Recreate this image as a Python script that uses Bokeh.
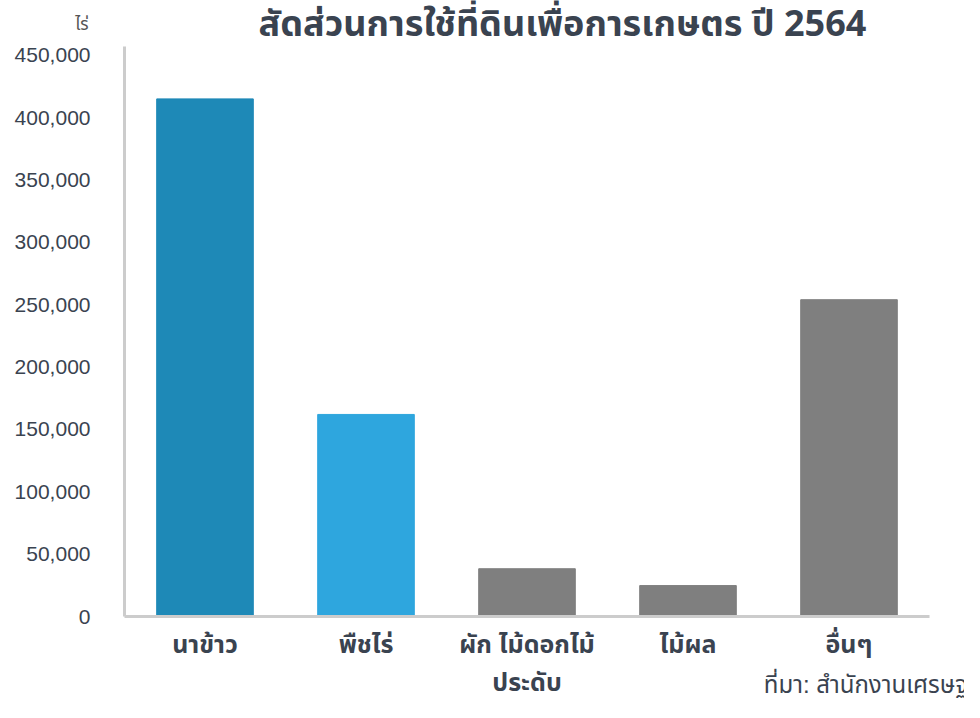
from bokeh.plotting import figure
from bokeh.models import Range1d, Label, Title, ColumnDataSource, NumeralTickFormatter, FixedTicker
from bokeh.layouts import column
from bokeh.embed import file_html
from bokeh.resources import INLINE

categories = ["นาข้าว", "พืชไร่", "ผัก ไม้ดอกไม้\nประดับ", "ไม้ผล", "อื่นๆ"]
values = [415000, 162000, 38300, 24800, 254000]
colors = ["#1e89b7", "#2ea6de", "#7f7f7f", "#7f7f7f", "#7f7f7f"]
y_ticks = [0, 50000, 100000, 150000, 200000, 250000, 300000, 350000, 400000, 450000]
title_text = "สัดส่วนการใช้ที่ดินเพื่อการเกษตร ปี 2564"
unit_text = "ไร่"
source_text = "ที่มา: สำนักงานเศรษฐกิจการเกษตร"

THAI = "Noto Sans Thai, Noto Sans, Liberation Sans, sans-serif"
THAI_TIGHT = "Liberation Sans, Noto Sans Thai, sans-serif"
TXT = "#3a4350"
W = 964
HEAD_H = 40

# header strip: title and unit label (frame is aligned with the main plot frame)
head = figure(width=W, height=HEAD_H, x_range=Range1d(124, 929), y_range=Range1d(0, HEAD_H),
              output_backend="svg", toolbar_location=None,
              min_border_left=124, min_border_right=35,
              min_border_top=0, min_border_bottom=0)
head.xaxis.visible = False
head.grid.visible = False
head.outline_line_color = None
head.yaxis.ticker = FixedTicker(ticks=[16])
head.yaxis.major_label_overrides = {16: unit_text}
head.yaxis.axis_line_color = None
head.yaxis.major_tick_line_color = None
head.yaxis.minor_tick_line_color = None
head.yaxis.major_label_text_font = THAI
head.yaxis.major_label_text_font_size = "17px"
head.yaxis.major_label_text_color = "#555555"
head.yaxis.major_label_standoff = 30
head.add_layout(Label(x=562, y=16, text=title_text,
                      text_font=THAI, text_font_style="bold", text_font_size="36px",
                      text_color=TXT, text_align="center", text_baseline="middle"))

src = ColumnDataSource(dict(cat=categories, val=values, color=colors))

p = figure(x_range=categories, y_range=Range1d(0, 457000), width=W, height=662,
           output_backend="svg", toolbar_location=None,
           min_border_left=124, min_border_right=35, min_border_top=6, min_border_bottom=86)
p.vbar(x="cat", top="val", width=0.6, color="color", source=src)

p.outline_line_color = None
p.xgrid.grid_line_color = None
p.ygrid.grid_line_color = None
p.x_range.range_padding = 0.0

p.yaxis.ticker = FixedTicker(ticks=y_ticks)
p.yaxis.formatter = NumeralTickFormatter(format="0,0")
p.yaxis.major_tick_line_color = None
p.yaxis.minor_tick_line_color = None
p.yaxis.axis_line_color = "#cccccc"
p.yaxis.axis_line_width = 3
p.yaxis.major_label_text_font = "Liberation Sans"
p.yaxis.major_label_text_font_size = "21px"
p.yaxis.major_label_text_color = TXT
p.yaxis.major_label_standoff = 28

xax = p.xaxis[0]
xax.major_tick_line_color = None
xax.minor_tick_line_color = None
xax.major_tick_out = 0
xax.major_tick_in = 0
xax.minor_tick_out = 0
xax.axis_line_color = "#cccccc"
xax.axis_line_width = 3
xax.major_label_text_font = THAI_TIGHT
xax.major_label_text_font_style = "bold"
xax.major_label_text_font_size = "25px"
xax.major_label_text_line_height = 1.37
xax.major_label_text_color = TXT
xax.major_label_standoff = 13

if "axis_label_align" in xax.properties():
    # source note drawn as the x axis' label, pushed to the right end
    xax.axis_label = source_text
    xax.axis_label_align = "end"
    xax.axis_label_standoff = -28
    xax.axis_label_text_font = THAI_TIGHT
    xax.axis_label_text_font_style = "normal"
    xax.axis_label_text_font_size = "24px"
    xax.axis_label_text_color = TXT
else:
    p.add_layout(Title(text=source_text, align="right", text_font=THAI_TIGHT,
                       text_font_style="normal", text_font_size="24px",
                       text_color=TXT, standoff=-34, offset=-28), "below")

open("out.html", "w").write(file_html(column(head, p, spacing=0), INLINE))
